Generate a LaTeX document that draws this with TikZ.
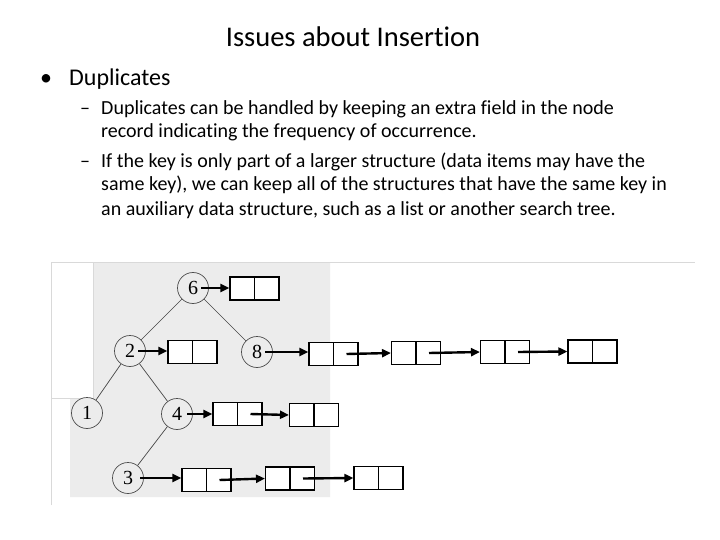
\documentclass[tikz,border=0pt]{standalone}
\usepackage{fontspec}
\setmainfont{Carlito}[Ligatures=NoCommon]
\newfontfamily\treefont{Liberation Serif}
\usetikzlibrary{arrows.meta}
\definecolor{scanbg}{gray}{0.925}
\definecolor{frameln}{gray}{0.85}
\tikzset{
  ttl/.style={font=\fontsize{28.5}{30}\selectfont, anchor=base, inner sep=0},
  lvla/.style={font=\fontsize{24}{26}\selectfont, anchor=base west, inner sep=0},
  lvlb/.style={font=\fontsize{20}{22}\selectfont, anchor=base west, inner sep=0},
  tnode/.style={circle, draw=gray!60!black, line width=0.7pt, fill=scanbg, minimum size=31pt, inner sep=0, font=\treefont\fontsize{20}{20}\selectfont},
  tedge/.style={draw=gray!55!black, line width=0.7pt},
  rec/.style={rectangle, draw=black, line width=1.1pt, fill=white, minimum width=49pt, minimum height=23pt, inner sep=0,
    path picture={\draw[line width=1.1pt] (path picture bounding box.north) -- (path picture bounding box.south);}},
  ptr/.style={line width=2.4pt, -{Triangle[length=9pt,width=8pt]}}
}
\begin{document}
\begin{tikzpicture}[x=1pt,y=-1pt]
\useasboundingbox[fill=white] (0,0) rectangle (720,540);
% scanned picture background
\fill[scanbg] (93,262) -- (330,262) -- (330,497) -- (70,497) -- (70,398) -- (93,398) -- cycle;
\draw[frameln, line width=0.6pt] (51,505) -- (51,262) -- (695,262);
\draw[frameln, line width=0.6pt] (51,398) -- (93,398) -- (93,262);
% text
\node[ttl] (title) at (353,47) {Issues about Insertion};
\node[lvla] (b1) at (40,86) {\textbullet};
\node[lvla] (t1) at (69,86) {Duplicates};
\node[lvlb] (d1) at (80,115) {–};
\node[lvlb] (l1) at (101,115) {Duplicates can be handled by keeping an extra field in the node};
\node[lvlb] (l2) at (101,138) {record indicating the frequency of occurrence.};
\node[lvlb] (d2) at (80,168) {–};
\node[lvlb] (l3) at (101,168) {If the key is only part of a larger structure (data items may have the};
\node[lvlb] (l4) at (101,191) {same key), we can keep all of the structures that have the same key in};
\node[lvlb] (l5) at (101,215) {an auxiliary data structure, such as a list or another search tree.};
% tree
\node[tnode] (n6) at (193,288) {6};
\node[tnode] (n2) at (130,351) {2};
\node[tnode] (n8) at (257,352) {8};
\node[tnode] (n1) at (87,413) {1};
\node[tnode] (n4) at (177,414) {4};
\node[tnode] (n3) at (128,478) {3};
\draw[tedge] (n6) -- (n2);
\draw[tedge] (n6) -- (n8);
\draw[tedge] (n2) -- (n1);
\draw[tedge] (n2) -- (n4);
\draw[tedge] (n4) -- (n3);
% lists
\node[rec] (r6) at (254.5,288.5) {};
\node[rec] (r2) at (192.5,352) {};
\node[rec] (r8a) at (333.5,354) {};
\node[rec] (r8b) at (416,353) {};
\node[rec] (r8c) at (505,352) {};
\node[rec] (r8d) at (592.5,351.5) {};
\node[rec] (r4a) at (237.5,414) {};
\node[rec] (r4b) at (314,415) {};
\node[rec] (r3a) at (206.5,480) {};
\node[rec] (r3b) at (290,478.5) {};
\node[rec] (r3c) at (378.5,478) {};
% pointers
\draw[ptr] ([xshift=8pt]n6.center) -- (r6.west |- n6.center);
\draw[ptr] ([xshift=8pt]n2.center) -- (r2.west |- n2.center);
\draw[ptr] ([xshift=8pt]n8.center) -- (r8a.west |- n8.center);
\draw[ptr] ([xshift=13pt]r8a.center) -- (r8b.west);
\draw[ptr] ([xshift=13pt]r8b.center) -- (r8c.west);
\draw[ptr] ([xshift=13pt]r8c.center) -- (r8d.west);
\draw[ptr] ([xshift=10pt]n4.center) -- (r4a.west |- n4.center);
\draw[ptr] ([xshift=13pt]r4a.center) -- (r4b.west);
\draw[ptr] ([xshift=12pt]n3.center) -- (r3a.west |- n3.center);
\draw[ptr] ([xshift=13pt]r3a.center) -- (r3b.west);
\draw[ptr] ([xshift=13pt]r3b.center) -- (r3c.west);
\end{tikzpicture}
\end{document}
